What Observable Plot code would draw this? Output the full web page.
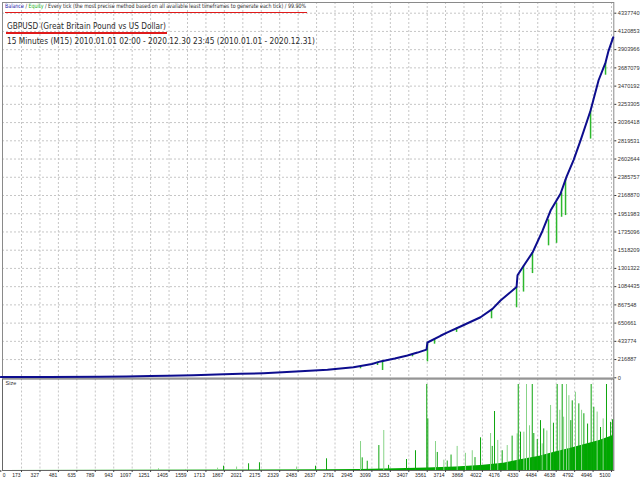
<!DOCTYPE html>
<html>
<head>
<meta charset="utf-8">
<script src="https://cdn.jsdelivr.net/npm/d3@7"></script>
<script src="https://cdn.jsdelivr.net/npm/@observablehq/plot@0.6"></script>
<style>
  html, body { margin: 0; padding: 0; background: #fff; }
  #wrap { position: relative; width: 640px; height: 480px; overflow: hidden; background: #fff; }
  #wrap > svg { position: absolute; left: 0; }
  .hdr { position: absolute; white-space: nowrap; display: inline-block; transform-origin: 0 50%;
         font-family: "DejaVu Sans", Verdana, sans-serif; color: #2a2a2a; }
  .uline { position: absolute; background: #e01a1a; }
</style>
</head>
<body>
<div id="wrap"></div>
<script>
// ---------- data ----------
const headerLine1Parts = ["Balance", " / ", "Equity", " / Every tick (the most precise method based on all available least timeframes to generate each tick) / 99.90%"];
const headerLine2 = "GBPUSD (Great Britain Pound vs US Dollar)";
const headerLine3 = "15 Minutes (M15) 2010.01.01 02:00 - 2020.12.30 23:45 (2010.01.01 - 2020.12.31)";
const sizeLabel = "Size";

const tradeMax = 5119;
const xTicks = [0,173,327,481,635,789,943,1097,1251,1405,1559,1713,1867,2021,2175,2329,2483,2637,2791,2945,3099,3253,3407,3561,3714,3868,4022,4176,4330,4484,4638,4792,4946,5100];
const yTicks = [0,216887,433774,650661,867548,1084435,1301322,1518209,1735096,1951983,2168870,2385757,2602644,2819531,3036418,3253305,3470192,3687079,3903966,4120853,4337740];

// balance curve
const balTrades = [0,400,833,1050,1250,1400,1609,1800,2002,2194,2350,2503,2728,2945,3100,3171,3290,3396,3480,3555,3563,3672,3730,3839,4006,4106,4173,4240,4307,4315,4365,4440,4524,4591,4674,4724,4783,4843,4925,4992,5050,5075,5114];
const balValues = [10000,11000,13000,16000,21000,25000,31000,38000,47000,55000,65000,78000,95000,126000,165000,195000,230000,265000,300000,335000,420000,500000,540000,610000,720000,820000,920000,1000000,1080000,1220000,1330000,1490000,1750000,1990000,2190000,2390000,2590000,2830000,3180000,3540000,3750000,3890000,4050000];

// equity drawdowns (green spikes below balance)
const dipTrades = [3004,3146,3188,3438,3563,3622,3806,4098,4307,4365,4440,4574,4641,4683,4716,4925,5050];
const dipTops   = [131000,185000,200000,280000,420000,460000,590000,810000,1080000,1330000,1490000,1880000,2080000,2200000,2360000,3180000,3750000];
const dipLows   = [107000,146000,87000,250000,190000,400000,540000,702000,833000,1020000,1240000,1570000,1600000,1910000,1930000,2840000,3600000];

// lot size: base level
const baseTrades = [0,2000,2700,3000,3300,3560,3800,4006,4200,4340,4500,4615,4760,4900,5000,5116];
const baseLots   = [0.1,0.5,0.9,1.2,1.9,2.8,4.2,5.8,8.5,12.4,16.5,21,26,31,35,40.7];

// lot size: spikes (L = light, D = dark)
const spikeTrades = [1317,1543,1810,1860,1969,2069,2160,2470,2628,2720,3004,3018,3060,3157,3198,3238,3388,3463,3557,3566,3630,3645,3700,3728,3760,3811,3880,3937,3960,4006,4090,4104,4123,4150,4187,4229,4270,4312,4321,4340,4368,4390,4415,4438,4451,4480,4507,4521,4534,4560,4591,4615,4646,4668,4688,4700,4724,4744,4760,4772,4799,4827,4850,4869,4900,4930,4952,4980,5008,5030,5058,5092,5108];
const spikeLots   = [2,1.2,2.7,5,4,7.8,9,4,5,13.6,33.7,14.7,10.8,29,46.5,6,12.8,23,100,60,33.7,21,12,11,18,28,20,23,15,38,43,28,68.6,35,23,29,40,42.6,100,44.6,44.6,100,52,100,43,36,58,31,48.4,46,75.6,55,100,70,100,62,100,87,58,81,91,77.5,70,66,54,100,73.6,68,50,60,100,56,59];
const spikeShade  = ["L","L","L","D","L","D","D","L","D","D","L","D","D","D","L","D","D","D","D","D","L","D","L","D","D","L","L","L","D","D","L","D","D","L","D","L","D","L","D","D","L","L","L","D","D","D","D","L","D","L","L","D","D","L","D","L","L","L","D","D","L","D","L","D","D","D","D","L","D","L","D","D","D"];

// ---------- tables ----------
const balance = balTrades.map((t, i) => ({trade: t, value: balValues[i]}));
const dips = dipTrades.map((t, i) => ({trade: t, top: dipTops[i], low: dipLows[i]}));
const base = baseTrades.map((t, i) => ({trade: t, lot: baseLots[i]}));
const spikes = spikeTrades.map((t, i) => ({trade: t, lot: spikeLots[i], shade: spikeShade[i]}));

const xScale = {domain: [0, tradeMax], range: [0.3, 613.3]};
const grid = {stroke: "#c6c6c6", strokeDasharray: "2,2", strokeWidth: 1};
const font = "Liberation Sans, Arial, sans-serif";

const main = Plot.plot({
  width: 640, height: 378,
  marginTop: 2, marginBottom: 0.5, marginLeft: 2, marginRight: 26.7,
  style: {background: "transparent", overflow: "visible", fontFamily: font, color: "#333"},
  x: {...xScale, axis: null},
  y: {domain: [0, 4337740], range: [377.3, 12.7], axis: null},
  marks: [
    Plot.ruleY(yTicks.slice(1), grid),
    Plot.ruleX(xTicks.slice(1), grid),
    Plot.frame({stroke: "#8a8a8a"}),
    Plot.ruleX(dips, {x: "trade", y1: "top", y2: "low", stroke: "#2db82d", strokeWidth: 1.5}),
    Plot.line(balance, {x: "trade", y: "value", stroke: "#0d0d8e", strokeWidth: 2}),
    Plot.axisY(yTicks, {anchor: "right", tickSize: 2, tickPadding: 2, fontSize: 5.6, tickFormat: d => String(d), label: null, color: "#333"})
  ]
});

const sizePlot = Plot.plot({
  width: 640, height: 102,
  marginTop: 0.5, marginBottom: 10, marginLeft: 2, marginRight: 26.7,
  style: {background: "transparent", overflow: "visible", fontFamily: font, color: "#333"},
  x: {...xScale, axis: null},
  y: {domain: [0, 100], range: [92, 6], axis: null},
  marks: [
    Plot.ruleX(xTicks.slice(1), grid),
    Plot.areaY(base, {x: "trade", y: "lot", fill: "#00a800"}),
    Plot.ruleX(spikes.filter(d => d.shade === "L"), {x: "trade", y1: 0, y2: "lot", stroke: "#88d488", strokeWidth: 1}),
    Plot.ruleX(spikes.filter(d => d.shade === "D"), {x: "trade", y1: 0, y2: "lot", stroke: "#0ea50e", strokeWidth: 1}),
    Plot.frame({stroke: "#666"}),
    Plot.axisX(xTicks, {anchor: "bottom", tickSize: 2, tickFormat: () => "", label: null, color: "#444"}),
    Plot.text([sizeLabel], {frameAnchor: "top-left", dx: 3, dy: 4.5, lineAnchor: "middle", fontSize: 5.5, fill: "#333"}),
    Plot.text(xTicks.slice(1), {x: d => d, text: d => String(d), frameAnchor: "bottom", dy: 5, dx: -1, lineAnchor: "middle", textAnchor: "end", fontSize: 5, fill: "#222"}),
    Plot.text(xTicks.slice(0, 1), {x: d => d, text: d => String(d), frameAnchor: "bottom", dy: 5, dx: 2, lineAnchor: "middle", textAnchor: "start", fontSize: 5, fill: "#222"})
  ]
});

const wrap = document.getElementById("wrap");
main.style.top = "0px";
sizePlot.style.top = "378px";
wrap.appendChild(main);
wrap.appendChild(sizePlot);

// ---------- header texts ----------
function addDiv(cls, css) {
  const d = document.createElement("div");
  d.className = cls;
  Object.assign(d.style, css);
  wrap.appendChild(d);
  return d;
}
function fitWidth(el, w) {
  const r = el.getBoundingClientRect().width;
  if (r > 0) el.style.transform = `scaleX(${w / r})`;
}
const colors1 = ["#1a1aa8", "#2a2a2a", "#22b022", "#2a2a2a"];
const h1 = addDiv("hdr", {left: "5px", top: "3px", fontSize: "6px", lineHeight: "6px"});
headerLine1Parts.forEach((p, i) => {
  const s = document.createElement("span");
  s.textContent = p;
  s.style.color = colors1[i];
  h1.appendChild(s);
});
const h2 = addDiv("hdr", {left: "7px", top: "21px", fontSize: "9px", lineHeight: "10px"});
h2.textContent = headerLine2;
const h3 = addDiv("hdr", {left: "7px", top: "36px", fontSize: "9px", lineHeight: "10px"});
h3.textContent = headerLine3;
addDiv("uline", {left: "5px", top: "12px", width: "302px", height: "1px"});
addDiv("uline", {left: "6px", top: "32px", width: "161px", height: "2px"});
fitWidth(h1, 301);
fitWidth(h2, 159);
fitWidth(h3, 308);
</script>
</body>
</html>
